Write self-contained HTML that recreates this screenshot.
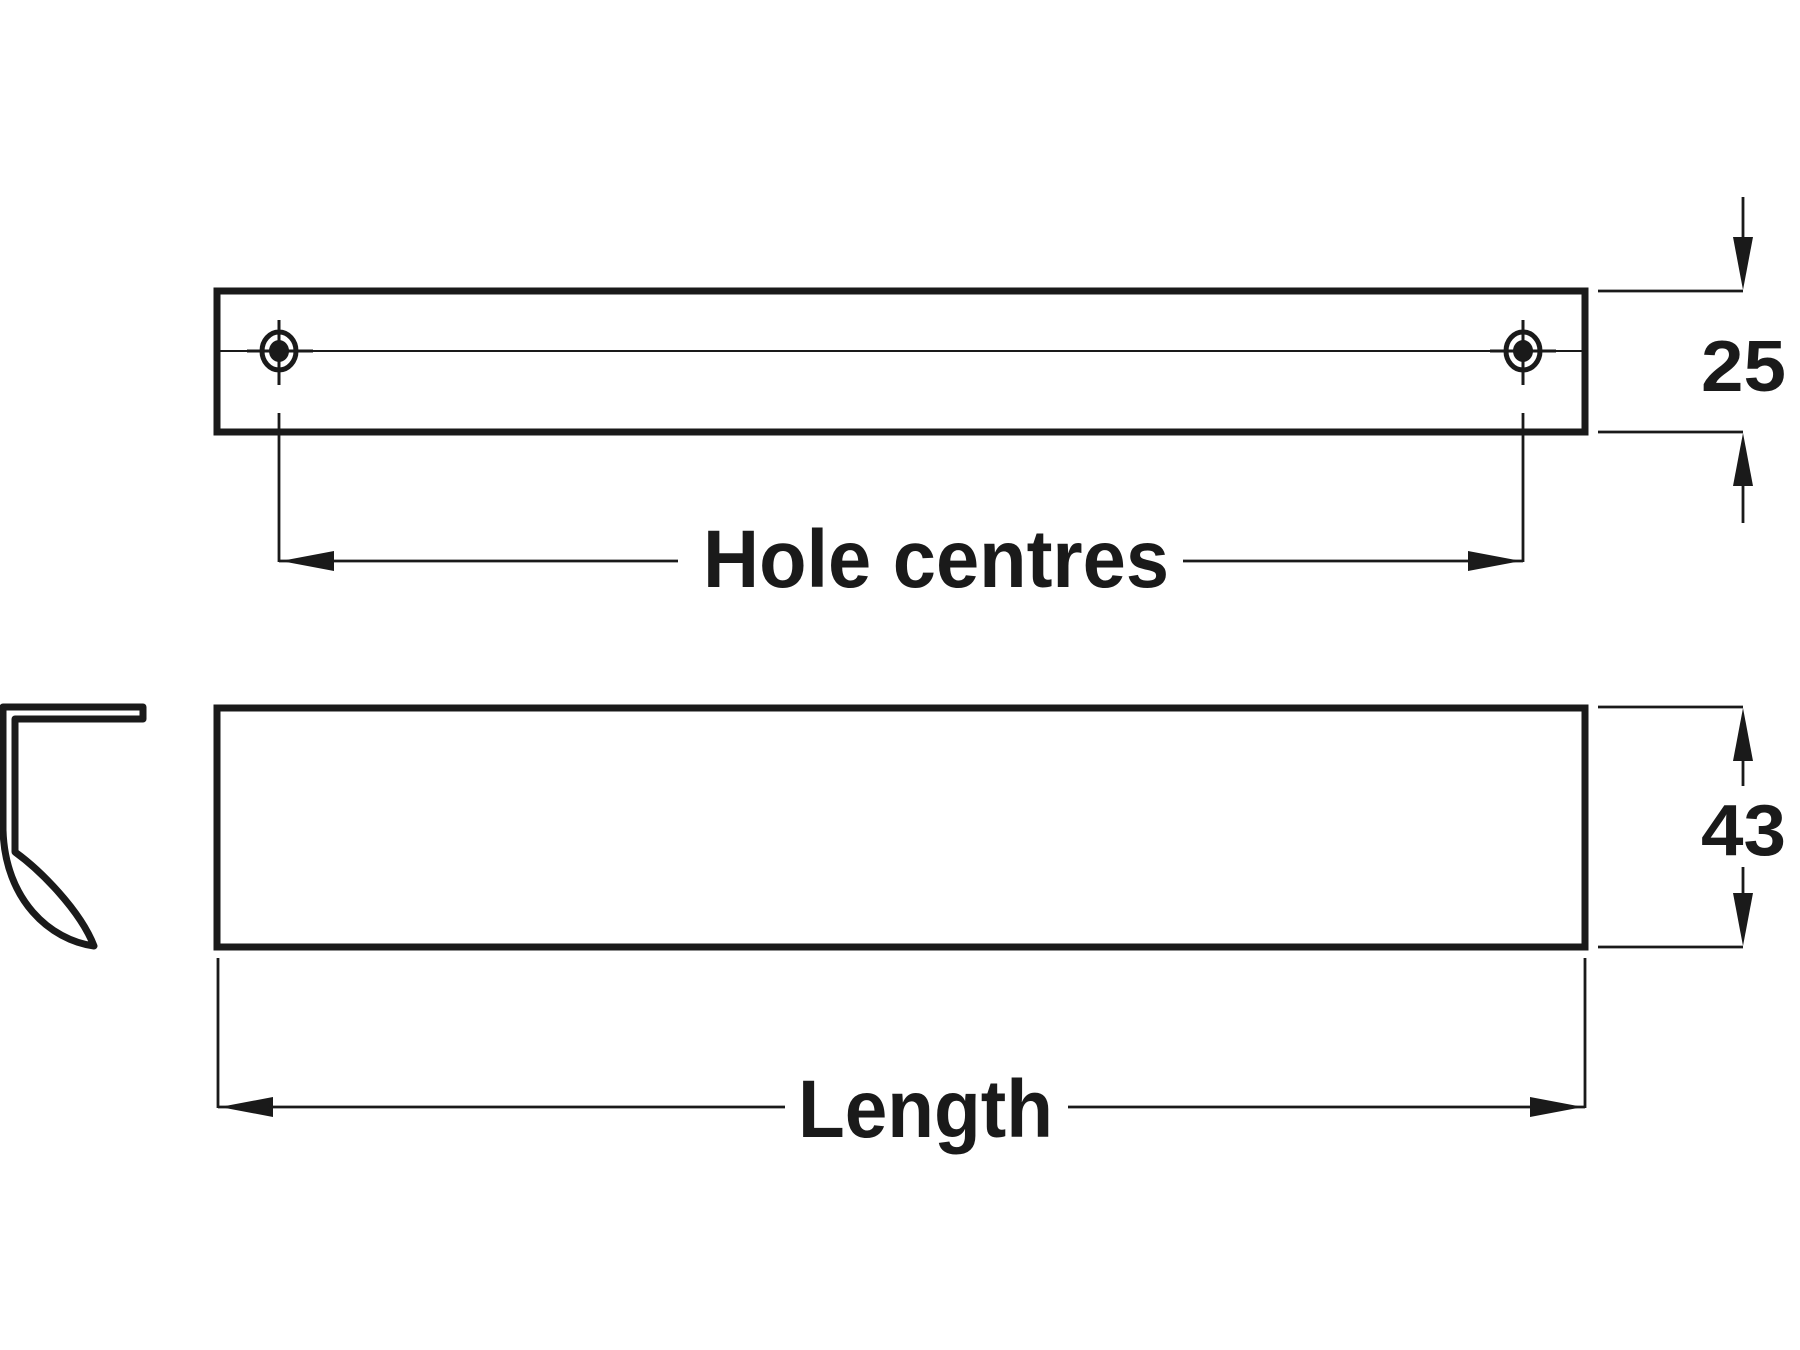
<!DOCTYPE html>
<html><head><style>html,body{margin:0;padding:0;background:#fff}svg{display:block}</style></head><body>
<svg width="1800" height="1350" viewBox="0 0 1800 1350" xmlns="http://www.w3.org/2000/svg">
<g fill="none" stroke="#1a1a1a">
<rect x="217" y="291" width="1368" height="141" stroke-width="7"/>
<line x1="220" y1="351" x2="1582" y2="351" stroke-width="2"/>
<g stroke-width="3">
<ellipse cx="279" cy="351" rx="17" ry="19" stroke-width="5"/>
<line x1="279" y1="320" x2="279" y2="385"/>
<line x1="247" y1="351" x2="313" y2="351"/>
<ellipse cx="1523" cy="351" rx="17" ry="19" stroke-width="5"/>
<line x1="1523" y1="320" x2="1523" y2="385"/>
<line x1="1490" y1="351" x2="1556" y2="351"/>
</g>
<g stroke-width="2.8">
<line x1="279" y1="413" x2="279" y2="562"/>
<line x1="1523" y1="413" x2="1523" y2="562"/>
<line x1="279" y1="561" x2="678" y2="561"/>
<line x1="1183" y1="561" x2="1523" y2="561"/>
<line x1="1598" y1="291" x2="1743" y2="291"/>
<line x1="1598" y1="432" x2="1743" y2="432"/>
<line x1="1743" y1="197" x2="1743" y2="250"/>
<line x1="1743" y1="470" x2="1743" y2="523"/>
<line x1="1598" y1="707" x2="1743" y2="707"/>
<line x1="1598" y1="947" x2="1743" y2="947"/>
<line x1="1743" y1="750" x2="1743" y2="786"/>
<line x1="1743" y1="867" x2="1743" y2="905"/>
<line x1="218" y1="958" x2="218" y2="1108"/>
<line x1="1585" y1="958" x2="1585" y2="1108"/>
<line x1="218" y1="1107" x2="785" y2="1107"/>
<line x1="1068" y1="1107" x2="1585" y2="1107"/>
</g>
<rect x="217" y="708" width="1368" height="239" stroke-width="7"/>
<path d="M3 707 H143 V719 H15 V852 C40 870 80 910 94 946 C50 940 5 900 3 830 Z" stroke-width="7" stroke-linejoin="round" stroke-linecap="round"/>
</g>
<ellipse cx="279" cy="351" rx="10" ry="11" fill="#1a1a1a"/>
<ellipse cx="1523" cy="351" rx="10" ry="11" fill="#1a1a1a"/>
<g fill="#1a1a1a">
<polygon points="281,561 334,551 334,571"/>
<polygon points="1521,561 1468,551 1468,571"/>
<polygon points="1743,290 1733,237 1753,237"/>
<polygon points="1743,433 1733,486 1753,486"/>
<polygon points="1743,708 1733,761 1753,761"/>
<polygon points="1743,946 1733,893 1753,893"/>
<polygon points="220,1107 273,1097 273,1117"/>
<polygon points="1583,1107 1530,1097 1530,1117"/>
</g>
<g font-family="Liberation Sans, sans-serif" font-weight="bold" fill="#1a1a1a">
<text x="703" y="587" font-size="82" textLength="466" lengthAdjust="spacingAndGlyphs">Hole centres</text>
<text x="798" y="1137" font-size="82" textLength="255" lengthAdjust="spacingAndGlyphs">Length</text>
<text x="1701" y="391" font-size="72" textLength="85" lengthAdjust="spacingAndGlyphs">25</text>
<text x="1701" y="855" font-size="72" textLength="85" lengthAdjust="spacingAndGlyphs">43</text>
</g>
</svg>
</body></html>
